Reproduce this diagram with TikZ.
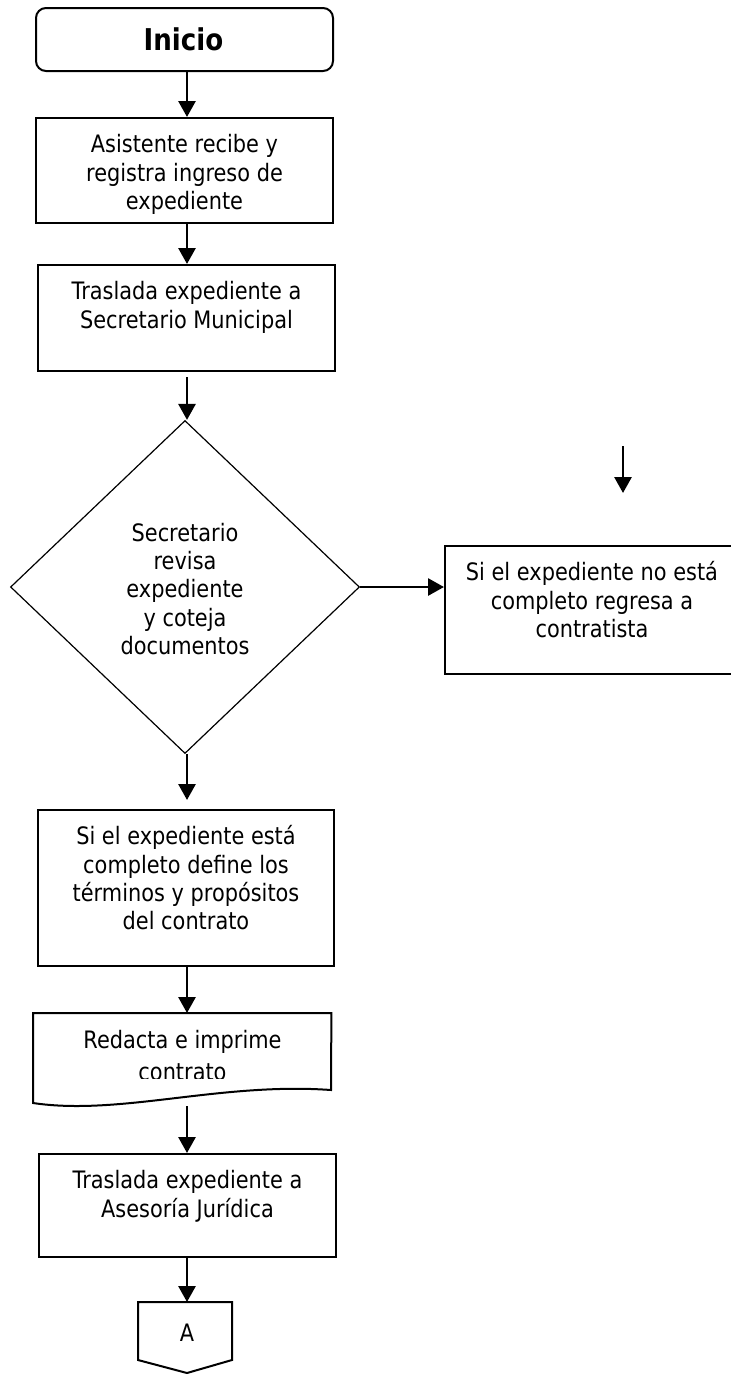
\documentclass[tikz,border=0pt]{standalone}
\usepackage{fontspec}
\setmainfont{DejaVu Sans}[FakeStretch=0.87]
\usetikzlibrary{arrows.meta,shapes.geometric,calc}

\begin{document}
\begin{tikzpicture}[x=1pt,y=-1pt,
  box/.style={draw, line width=2pt, rectangle, anchor=north west, inner sep=0pt},
  txt/.style={anchor=north, align=center, inner sep=0pt, font=\fontsize{24}{28.3}\selectfont},
  flow/.style={line width=2.8pt, -{Triangle[length=16pt,width=17pt]}},
]
\useasboundingbox (0,0) rectangle (731,1374);
\coordinate (spine) at (187,0);

% start terminal
\node[draw, line width=2pt, rounded corners=10pt, minimum width=297pt, minimum height=63pt,
      anchor=north west, inner sep=0pt] (start) at (35,7) {};
\node[anchor=base, inner sep=0pt, font=\fontsize{30}{34}\selectfont\bfseries] (startlbl) at (183.5,50) {Inicio};

% reception
\node[box, minimum width=297pt, minimum height=105pt] (b1) at (35,117) {};
\node[txt] (t1) at ($(b1.north)+(0,15.5)$) {\rule{0pt}{20pt}Asistente recibe y\\registra ingreso de\\expediente};

% transfer to secretary
\node[box, minimum width=297pt, minimum height=106pt] (b2) at (37,264) {};
\node[txt] (t2) at ($(b2.north)+(0,15.5)$) {\rule{0pt}{20pt}Traslada expediente a\\Secretario Municipal};

% review decision
\node[draw, diamond, line width=1.2pt, minimum width=349pt, minimum height=333pt, inner sep=0pt] (dec) at (185,587) {};
\node[txt] (tdec) at (185,521) {\rule{0pt}{20pt}Secretario\\revisa\\expediente\\y coteja\\documentos};

% incomplete file branch
\node[box, minimum width=294pt, minimum height=128pt] (rb) at (444,545) {};
\node[txt] (trb) at ($(rb.north)+(0,15.5)$) {\rule{0pt}{20pt}Si el expediente no está\\completo regresa a\\contratista};
\coordinate (fa) at (623,446);
\coordinate (fb) at (623,493);

% complete file
\node[box, minimum width=296pt, minimum height=156pt] (b3) at (37,809) {};
\node[txt] (t3) at ($(b3.north)+(0,15.5)$) {\rule{0pt}{20pt}Si el expediente está\\completo define los\\términos y propósitos\\del contrato};

% document: draft and print
\node[anchor=north west, minimum width=298pt, minimum height=90pt, inner sep=0pt] (b4) at (33,1013) {};
\draw[line width=2pt] (b4.north west) -- (b4.north east) -- (331,1090)
  .. controls (220,1082) and (120,1116) .. (33,1103) -- cycle;
\begin{scope}
  \clip (33,1013) rectangle (331,1078.5);
  \node[anchor=north, align=center, inner sep=0pt, font=\fontsize{24}{32}\selectfont] (t4)
    at (182.5,1028) {\rule{0pt}{20pt}Redacta e imprime\\contrato};
\end{scope}
\coordinate (b4out) at (187,1106);

% transfer to legal advice
\node[box, minimum width=297pt, minimum height=103pt] (b5) at (38,1153) {};
\node[txt] (t5) at ($(b5.north)+(0,15.5)$) {\rule{0pt}{20pt}Traslada expediente a\\Asesoría Jurídica};

% off-page connector
\draw[line width=2pt] (138,1302) -- (232,1302) -- (232,1360) -- (187,1373) -- (138,1360) -- cycle;
\coordinate (contop) at (187,1302);
\node[anchor=base, inner sep=0pt, font=\fontsize{24}{28}\selectfont] (con) at (187,1341) {A};

% connectors
\draw[flow] (spine |- start.south) -- (spine |- b1.north);
\draw[flow] (spine |- b1.south) -- (spine |- b2.north);
\draw[flow, shorten <=5pt] (spine |- b2.south) -- (spine |- dec.north);
\draw[flow] (dec.east) -- (dec.east -| rb.west);
\draw[flow] (fa) -- (fb);
\draw[flow, shorten >=9pt] (spine |- dec.south) -- (spine |- b3.north);
\draw[flow] (spine |- b3.south) -- (spine |- b4.north);
\draw[flow] (b4out) -- (spine |- b5.north);
\draw[flow] (spine |- b5.south) -- (contop);
\end{tikzpicture}
\end{document}
